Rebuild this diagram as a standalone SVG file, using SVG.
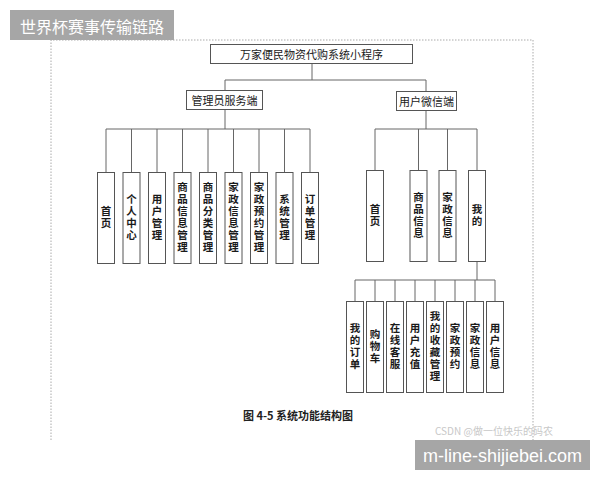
<svg xmlns="http://www.w3.org/2000/svg" width="600" height="480" viewBox="0 0 600 480">
<style>
.box{fill:#fff;stroke:#555;stroke-width:1}
.ln{fill:none;stroke:#666;stroke-width:1}
.h{font-family:"Noto Sans CJK SC",sans-serif;font-size:11px;fill:#1a1a1a;text-anchor:middle;dominant-baseline:central}
.v{font-family:"Noto Sans CJK SC",sans-serif;font-size:10.5px;fill:#1a1a1a;text-anchor:middle;dominant-baseline:central;font-weight:bold;writing-mode:vertical-rl;letter-spacing:1.5px}
</style>
<rect width="600" height="480" fill="#fff"/>
<g id="frame" fill="none" stroke="#aaa" stroke-width="1" stroke-dasharray="1.5,1.5">
<path d="M51,440 V40 H533 V440"/>
</g>
<g id="banner-top">
<rect x="10" y="10" width="164" height="30" fill="#a6a6a6"/>
<text x="92" y="25.5" font-family="'Noto Sans CJK SC',sans-serif" font-size="16" fill="#fff" text-anchor="middle" dominant-baseline="central">世界杯赛事传输链路</text>
</g>
<g id="connectors">
<path class="ln" d="M312,63 V80 M225,80 H426 M225,80 V90 M426,80 V91"/>
<path class="ln" d="M225,110 V129 M106,129 H310 M106,129 V172 M131.5,129 V172 M157,129 V172 M182.5,129 V172 M208,129 V172 M233.5,129 V172 M259,129 V172 M284.5,129 V172 M310,129 V172"/>
<path class="ln" d="M426,110 V129 M375,129 H477 M375,129 V170 M418.5,129 V170 M447.5,129 V170 M477,129 V170"/>
<path class="ln" d="M477,261 V280 M355,280 H495 M355,280 V301 M375,280 V301 M395,280 V301 M415,280 V301 M435,280 V301 M455,280 V301 M475,280 V301 M495,280 V301"/>
</g>
<g id="root"><rect class="box" x="210.5" y="44.5" width="202" height="19"/><text class="h" x="311.5" y="54">万家便民物资代购系统小程序</text></g>
<g id="admin"><rect class="box" x="186.5" y="90.5" width="76" height="19"/><text class="h" x="224.5" y="100">管理员服务端</text></g>
<g id="user"><rect class="box" x="396.5" y="91.5" width="60" height="19"/><text class="h" x="426.5" y="101">用户微信端</text></g>

<g id="a1"><rect class="box" x="97.5" y="172.5" width="17" height="91"/><text class="v" x="106" y="218">首页</text></g>
<g id="a2"><rect class="box" x="123" y="172.5" width="17" height="91"/><text class="v" x="131.5" y="218">个人中心</text></g>
<g id="a3"><rect class="box" x="148.5" y="172.5" width="17" height="91"/><text class="v" x="157" y="218">用户管理</text></g>
<g id="a4"><rect class="box" x="174" y="172.5" width="17" height="91"/><text class="v" x="182.5" y="218">商品信息管理</text></g>
<g id="a5"><rect class="box" x="199.5" y="172.5" width="17" height="91"/><text class="v" x="208" y="218">商品分类管理</text></g>
<g id="a6"><rect class="box" x="225" y="172.5" width="17" height="91"/><text class="v" x="233.5" y="218">家政信息管理</text></g>
<g id="a7"><rect class="box" x="250.5" y="172.5" width="17" height="91"/><text class="v" x="259" y="218">家政预约管理</text></g>
<g id="a8"><rect class="box" x="276" y="172.5" width="17" height="91"/><text class="v" x="284.5" y="218">系统管理</text></g>
<g id="a9"><rect class="box" x="301.5" y="172.5" width="17" height="91"/><text class="v" x="310" y="218">订单管理</text></g>

<g id="u1"><rect class="box" x="366.5" y="170.5" width="17" height="91"/><text class="v" x="375" y="216">首页</text></g>
<g id="u2"><rect class="box" x="410" y="170.5" width="17" height="91"/><text class="v" x="418.5" y="216">商品信息</text></g>
<g id="u3"><rect class="box" x="439" y="170.5" width="17" height="91"/><text class="v" x="447.5" y="216">家政信息</text></g>
<g id="u4"><rect class="box" x="468.5" y="170.5" width="17" height="91"/><text class="v" x="477" y="216">我的</text></g>

<g id="m1"><rect class="box" x="346.5" y="301.5" width="17" height="91"/><text class="v" x="355" y="347">我的订单</text></g>
<g id="m2"><rect class="box" x="366.5" y="301.5" width="17" height="91"/><text class="v" x="375" y="347">购物车</text></g>
<g id="m3"><rect class="box" x="386.5" y="301.5" width="17" height="91"/><text class="v" x="395" y="347">在线客服</text></g>
<g id="m4"><rect class="box" x="406.5" y="301.5" width="17" height="91"/><text class="v" x="415" y="347">用户充值</text></g>
<g id="m5"><rect class="box" x="426.5" y="301.5" width="17" height="91"/><text class="v" x="435" y="347">我的收藏管理</text></g>
<g id="m6"><rect class="box" x="446.5" y="301.5" width="17" height="91"/><text class="v" x="455" y="347">家政预约</text></g>
<g id="m7"><rect class="box" x="466.5" y="301.5" width="17" height="91"/><text class="v" x="475" y="347">家政信息</text></g>
<g id="m8"><rect class="box" x="486.5" y="301.5" width="17" height="91"/><text class="v" x="495" y="347">用户信息</text></g>

<g id="caption"><text x="243" y="415" font-family="'Noto Sans CJK SC',sans-serif" font-size="11" font-weight="bold" fill="#222" dominant-baseline="central">图 4-5 系统功能结构图</text></g>
<g id="watermark"><text x="435" y="430" font-family="'Noto Sans CJK SC',sans-serif" font-size="10" fill="#c8c8c8" dominant-baseline="central">CSDN @做一位快乐的码农</text></g>
<g id="banner-bottom">
<rect x="415" y="440" width="175" height="30" fill="#a6a6a6"/>
<text x="502.5" y="455.5" font-family="'Liberation Sans',Arial,sans-serif" font-size="18" fill="#fff" text-anchor="middle" dominant-baseline="central">m-line-shijiebei.com</text>
</g>
</svg>
